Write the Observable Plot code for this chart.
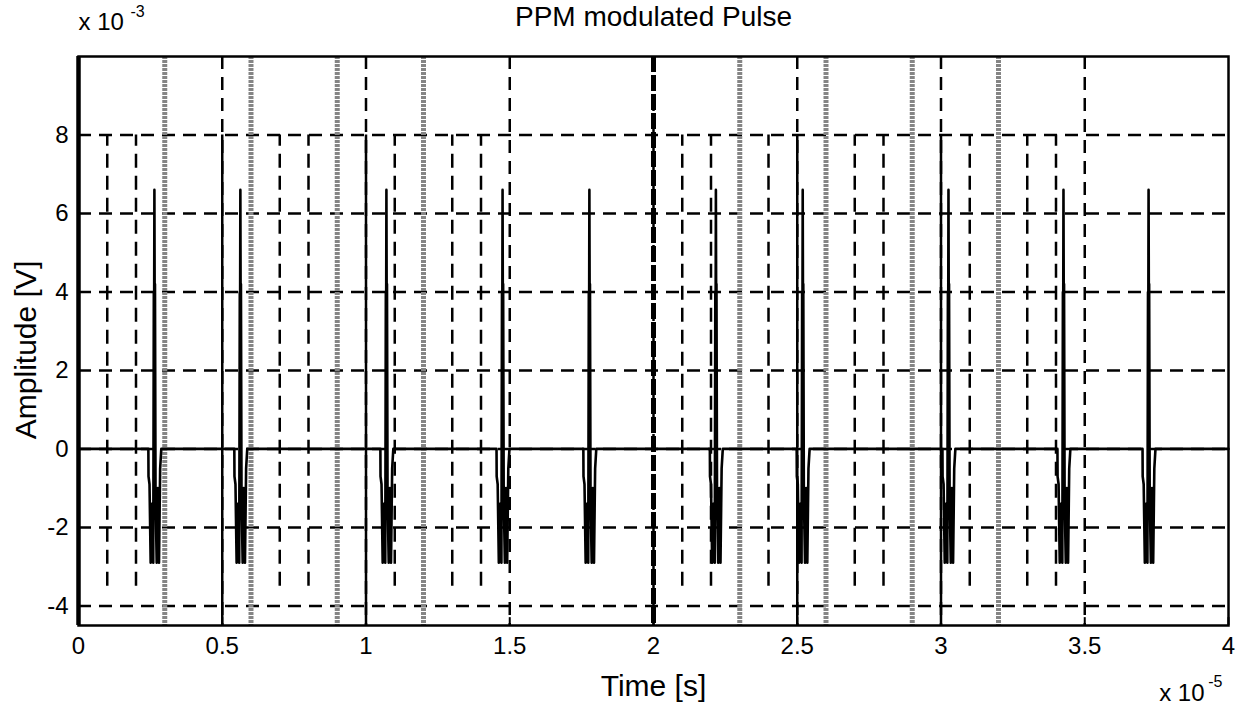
<!DOCTYPE html>
<html>
<head>
<meta charset="utf-8">
<script src="https://cdn.jsdelivr.net/npm/d3@7"></script>
<script src="https://cdn.jsdelivr.net/npm/@observablehq/plot@0.6"></script>
<style>
  html, body { margin: 0; padding: 0; background: #fff; }
  #chart svg { display: block; }
</style>
</head>
<body>
<div id="chart"></div>
<script>
// ---- data (x in units of 1e-5 s, y in units of 1e-3 V) ----
const xTicks = [0, 0.5, 1, 1.5, 2, 2.5, 3, 3.5, 4];
const yTicks = [-4, -2, 0, 2, 4, 6, 8];
const xDomain = [0, 4];
const yDomain = [-4.5, 10];

// pulse centres (peak positions)
const pulseCenters = [0.264, 0.563, 1.071, 1.475, 1.777, 2.217, 2.519, 3.026, 3.426, 3.722];
// shape of one pulse: time offsets from the peak and amplitudes
const pulseOffsets = [-0.024, -0.021, -0.0205, -0.017, -0.013, -0.009, -0.004, -0.002, -0.001, 0, 0.001, 0.002, 0.004, 0.008, 0.012, 0.016, 0.02, 0.024];
const pulseValues  = [0, 0, -0.7, -0.9, -2.9, -1.4, -2.9, 4.0, 3.2, 6.6, 3.6, 4.2, -1.2, -2.9, -1.0, -2.9, -0.5, 0];

// slot markers (short dashed), reference markers (grey), frame markers (solid)
const slotMarks = [0.1, 0.2, 0.7, 0.8, 1.1, 1.3, 1.4, 2.1, 2.2, 2.4, 2.7, 2.8, 3.1, 3.3, 3.4];
const slotRange = [-3.5, 8];
const greyMarks = [0.3, 0.6, 0.9, 1.2, 2.3, 2.6, 2.9, 3.2];
const frameMarks = [0.5, 1.0, 2.5, 3.0];
const frameRange = [-4.5, 8];
const heavyMarks = [2.0];
const tickRange = [-4.5, -4.3];

// ---- build the signal table ----
const signal = [{t: xDomain[0], v: 0}];
for (const c of pulseCenters) {
  pulseOffsets.forEach((o, i) => signal.push({t: c + o, v: pulseValues[i]}));
}
signal.push({t: xDomain[1], v: 0});

const font = "'Liberation Sans', Arial, sans-serif";

const chart = Plot.plot({
  width: 1236,
  height: 706,
  marginLeft: 78,
  marginRight: 8,
  marginTop: 56,
  marginBottom: 81,
  style: {fontFamily: font, fontSize: "23px", background: "#fff", color: "#000", overflow: "visible"},
  x: {type: "linear", domain: xDomain, ticks: xTicks, label: null},
  y: {type: "linear", domain: yDomain, ticks: yTicks, label: null},
  marks: [
    // dashed grid
    Plot.ruleY(yTicks, {stroke: "#000", strokeWidth: 2.5, strokeDasharray: "13,8"}),
    Plot.ruleX(xTicks.filter(d => d > xDomain[0] && d < xDomain[1]), {stroke: "#000", strokeWidth: 2.5, strokeDasharray: "13,8"}),
    // grey markers
    Plot.ruleX(greyMarks, {stroke: "#858585", strokeWidth: 5, strokeDasharray: "3,1"}),
    // slot markers
    Plot.ruleX(slotMarks, {y1: slotRange[0], y2: slotRange[1], stroke: "#000", strokeWidth: 2.5, strokeDasharray: "14,8"}),
    // frame markers
    Plot.ruleX(frameMarks, {y1: frameRange[0], y2: frameRange[1], stroke: "#000", strokeWidth: 2.5}),
    Plot.ruleX(heavyMarks, {stroke: "#000", strokeWidth: 5, strokeDasharray: "16,3"}),
    // signal
    Plot.line(signal, {x: "t", y: "v", stroke: "#000", strokeWidth: 2.6}),
    // inward ticks
    Plot.ruleX(xTicks, {y1: tickRange[0], y2: tickRange[1], stroke: "#000", strokeWidth: 2}),
    // frame
    Plot.frame({stroke: "#000", strokeWidth: 2.5}),
    Plot.ruleX([xDomain[0]], {stroke: "#000", strokeWidth: 4.5}),
    // axes
    Plot.axisX({ticks: xTicks, tickSize: 0, tickPadding: 11, fontSize: 24, tickFormat: d => String(d)}),
    Plot.axisY({ticks: yTicks, tickSize: 0, tickPadding: 10, fontSize: 24, tickFormat: d => String(d)}),
    // texts
    Plot.text(["PPM modulated Pulse"], {frameAnchor: "top", dy: -39, fontSize: 28, lineAnchor: "middle"}),
    Plot.text(["Amplitude [V]"], {frameAnchor: "left", dx: -52, dy: 9, rotate: -90, fontSize: 30, textAnchor: "middle", lineAnchor: "middle"}),
    Plot.text(["Time [s]"], {frameAnchor: "bottom", dy: 61, fontSize: 30, lineAnchor: "middle"}),
    Plot.text(["x 10"], {frameAnchor: "top-left", dx: 0, dy: -34, textAnchor: "start", fontSize: 24, lineAnchor: "middle"}),
    Plot.text(["-3"], {frameAnchor: "top-left", dx: 52, dy: -45, textAnchor: "start", fontSize: 16, lineAnchor: "middle"}),
    Plot.text(["x 10"], {frameAnchor: "bottom-right", dx: -24, dy: 68, textAnchor: "end", fontSize: 24, lineAnchor: "middle"}),
    Plot.text(["-5"], {frameAnchor: "bottom-right", dx: -6, dy: 56, textAnchor: "end", fontSize: 16, lineAnchor: "middle"})
  ]
});
document.getElementById("chart").appendChild(chart);
</script>
</body>
</html>
